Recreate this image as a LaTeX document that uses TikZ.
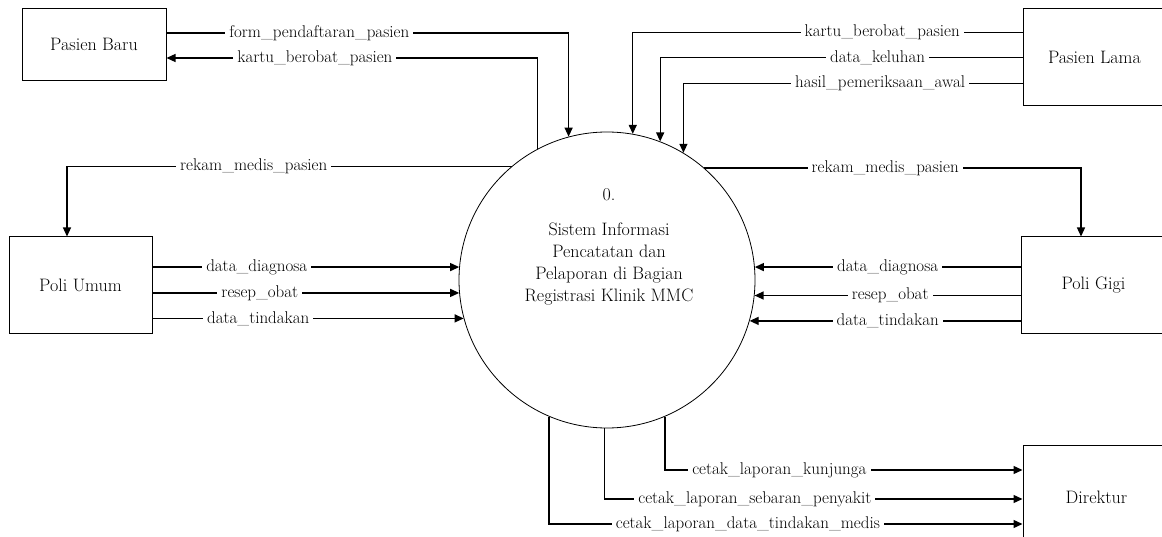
\documentclass[tikz,border=0pt]{standalone}
\usepackage{fontspec}
\usepackage{tikz}
\usetikzlibrary{arrows.meta}
\tikzset{>={Triangle[length=9pt,width=8pt]},
    entitas/.style={draw, line width=1pt, font=\fontsize{18}{21}\selectfont},
    proses/.style={draw, circle, line width=0.8pt, minimum size=296pt, inner sep=0pt},
    alur/.style={line width=1.3pt},
    ket/.style={fill=white, inner xsep=4pt, inner ysep=2pt, font=\fontsize{17}{20}\selectfont}}

\begin{document}
\begin{tikzpicture}[x=1pt, y=-1pt]
    \useasboundingbox (0,0) rectangle (1162,537);
    \node[entitas, minimum width=144pt, minimum height=72pt] at (94, 44.5) (pb) {Pasien Baru};
    \node[entitas, minimum width=143pt, minimum height=97pt] at (1094.5, 57.5) (pl) {Pasien Lama};
    \node[entitas, minimum width=143pt, minimum height=97pt] at (80.5, 285.5) (pu) {Poli Umum};
    \node[entitas, minimum width=145pt, minimum height=97pt] at (1093.5, 285.5) (pg) {Poli Gigi};
    \node[entitas, minimum width=147pt, minimum height=105pt] at (1096.5, 497.5) (dir) {Direktur};
    \node[proses] at (607, 280) (sis) {};
    \node[align=center, anchor=north, inner sep=0pt, font=\fontsize{18}{22}\selectfont] at (609, 188) (sisteks)
        {0.\\[13pt] Sistem Informasi\\ Pencatatan dan\\ Pelaporan di Bagian\\ Registrasi Klinik MMC};
    % pasien baru
    \draw[alur, ->] ([yshift=11.5pt]pb.east) -| (sis.105.7) node[ket, pos=0.19] {form\_pendaftaran\_pasien};
    \draw[alur, ->] (sis.118.7) |- ([yshift=-13.5pt]pb.east) node[ket, pos=0.8] {kartu\_berobat\_pasien};
    % poli umum
    \draw[alur, ->] (sis.130.8) -| ([xshift=-13.5pt]pu.north) node[ket, pos=0.29] {rekam\_medis\_pasien};
    \draw[alur, ->] (pu.east |- sis.175) -- (sis.175) node[ket, pos=0.34] {data\_diagnosa};
    \draw[alur, ->] (pu.east |- sis.185.4) -- (sis.185.4) node[ket, pos=0.35] {resep\_obat};
    \draw[alur, ->] (pu.east |- sis.195.7) -- (sis.195.7) node[ket, pos=0.34] {data\_tindakan};
    % pasien lama
    \draw[alur, ->] ([yshift=25.2pt]pl.west) -| (sis.80.7) node[ket, pos=0.18] {kartu\_berobat\_pasien};
    \draw[alur, ->] (pl.west) -| (sis.69.8) node[ket, pos=0.2] {data\_keluhan};
    \draw[alur, ->] ([yshift=-25.8pt]pl.west) -| (sis.59.1) node[ket, pos=0.21] {hasil\_pemeriksaan\_awal};
    % poli gigi
    \draw[alur, ->] (sis.49.2) -| ([xshift=-12.5pt]pg.north) node[ket, pos=0.24] {rekam\_medis\_pasien};
    \draw[alur, ->] (pg.west |- sis.5) -- (sis.5) node[ket, pos=0.5] {data\_diagnosa};
    \draw[alur, ->] (pg.west |- sis.354.2) -- (sis.354.2) node[ket, pos=0.49] {resep\_obat};
    \draw[alur, ->] (pg.west |- sis.344.3) -- (sis.344.3) node[ket, pos=0.49] {data\_tindakan};
    % direktur
    \draw[alur, ->] (sis.293.1) |- ([yshift=27.5pt]dir.west) node[ket, pos=0.66] {cetak\_laporan\_kunjunga};
    \draw[alur, ->] (sis.269.2) |- ([yshift=-1.5pt]dir.west) node[ket, pos=0.68] {cetak\_laporan\_sebaran\_penyakit};
    \draw[alur, ->] (sis.247.35) |- ([yshift=-26.5pt]dir.west) node[ket, pos=0.71] {cetak\_laporan\_data\_tindakan\_medis};
\end{tikzpicture}
\end{document}
